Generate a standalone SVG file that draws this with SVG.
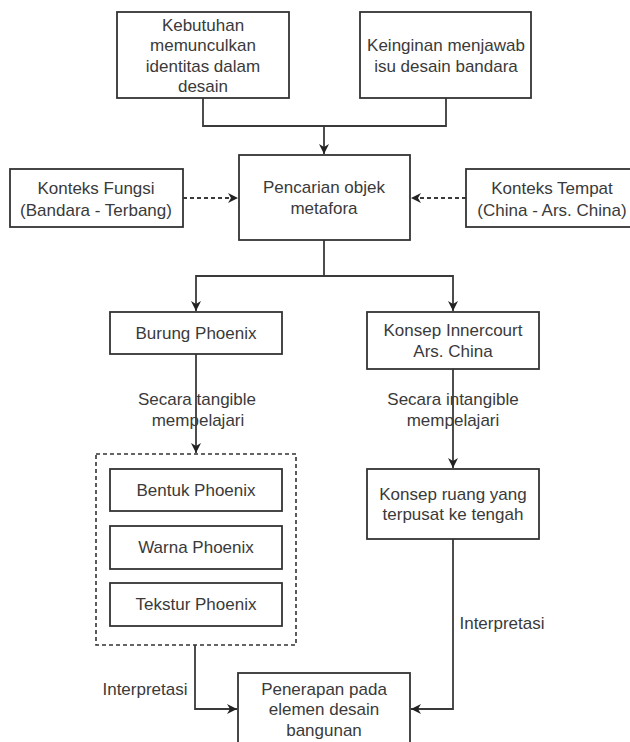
<svg xmlns="http://www.w3.org/2000/svg" width="630" height="742" viewBox="0 0 630 742">
<style>
  .box { fill: #ffffff; stroke: #333333; stroke-width: 1.8; }
  .grp { fill: none; stroke: #333333; stroke-width: 1.6; stroke-dasharray: 4 3; }
  .t { font-family: "Liberation Sans", Arial, sans-serif; font-size: 17px; fill: #3a3a3a; text-anchor: middle; }
  .edge { fill: none; stroke: #3a3a3a; stroke-width: 1.8; }
  .dot { stroke-dasharray: 4 3; }
</style>
<defs>
  <marker id="arr" markerUnits="userSpaceOnUse" markerWidth="12" markerHeight="12" refX="10" refY="5" orient="auto">
    <path d="M0,0 L10,5 L0,10 L3,5 Z" fill="#222222"/>
  </marker>
</defs>
<rect width="630" height="742" fill="#ffffff"/>

<g id="connectors">
  <path class="edge" d="M203,98 V126 H324 V154" marker-end="url(#arr)"/>
  <path class="edge" d="M446,98 V126 H324"/>
  <path class="edge dot" d="M183,198 H238" marker-end="url(#arr)"/>
  <path class="edge dot" d="M466,198 H411" marker-end="url(#arr)"/>
  <path class="edge" d="M324,240 V276 H196 V311" marker-end="url(#arr)"/>
  <path class="edge" d="M324,276 H453 V311" marker-end="url(#arr)"/>
  <path class="edge" d="M196,354 V453" marker-end="url(#arr)"/>
  <path class="edge" d="M453,369 V468" marker-end="url(#arr)"/>
  <path class="edge" d="M195,645 V709 H237" marker-end="url(#arr)"/>
  <path class="edge" d="M453,539 V709 H411" marker-end="url(#arr)"/>
  <text class="t" x="197" y="405">Secara tangible</text>
  <text class="t" x="198" y="426">mempelajari</text>
  <text class="t" x="453" y="405">Secara intangible</text>
  <text class="t" x="453" y="426">mempelajari</text>
  <text class="t" x="145" y="695">Interpretasi</text>
  <text class="t" x="502" y="629">Interpretasi</text>
</g>

<g id="kebutuhan">
  <rect class="box" x="117" y="12" width="172" height="86"/>
  <text class="t" x="203" y="31">Kebutuhan</text>
  <text class="t" x="203" y="51">memunculkan</text>
  <text class="t" x="203" y="72">identitas dalam</text>
  <text class="t" x="203" y="92">desain</text>
</g>
<g id="keinginan">
  <rect class="box" x="360" y="12" width="171" height="86"/>
  <text class="t" x="446" y="51">Keinginan menjawab</text>
  <text class="t" x="446" y="72">isu desain bandara</text>
</g>
<g id="pencarian">
  <rect class="box" x="239" y="155" width="171" height="85"/>
  <text class="t" x="324" y="193">Pencarian objek</text>
  <text class="t" x="324" y="214">metafora</text>
</g>
<g id="konteks-fungsi">
  <rect class="box" x="10" y="169" width="173" height="58"/>
  <text class="t" x="96" y="194">Konteks Fungsi</text>
  <text class="t" x="96" y="216">(Bandara - Terbang)</text>
</g>
<g id="konteks-tempat">
  <rect class="box" x="466" y="169" width="173" height="58"/>
  <text class="t" x="552" y="194">Konteks Tempat</text>
  <text class="t" x="552" y="216">(China - Ars. China)</text>
</g>
<g id="burung">
  <rect class="box" x="110" y="312" width="172" height="42"/>
  <text class="t" x="196" y="339">Burung Phoenix</text>
</g>
<g id="innercourt">
  <rect class="box" x="367" y="312" width="172" height="57"/>
  <text class="t" x="453" y="336">Konsep Innercourt</text>
  <text class="t" x="453" y="357">Ars. China</text>
</g>
<g id="phoenix-group">
  <rect class="grp" x="96" y="454" width="200" height="191"/>
</g>
<g id="bentuk">
  <rect class="box" x="110" y="469" width="172" height="42"/>
  <text class="t" x="196" y="496">Bentuk Phoenix</text>
</g>
<g id="warna">
  <rect class="box" x="110" y="526" width="172" height="43"/>
  <text class="t" x="196" y="553">Warna Phoenix</text>
</g>
<g id="tekstur">
  <rect class="box" x="110" y="583" width="172" height="43"/>
  <text class="t" x="196" y="610">Tekstur Phoenix</text>
</g>
<g id="konsep-ruang">
  <rect class="box" x="367" y="469" width="172" height="70"/>
  <text class="t" x="453" y="500">Konsep ruang yang</text>
  <text class="t" x="453" y="520">terpusat ke tengah</text>
</g>
<g id="penerapan">
  <rect class="box" x="238" y="673" width="172" height="86"/>
  <text class="t" x="324" y="695">Penerapan pada</text>
  <text class="t" x="324" y="715">elemen desain</text>
  <text class="t" x="324" y="736">bangunan</text>
</g>
</svg>
